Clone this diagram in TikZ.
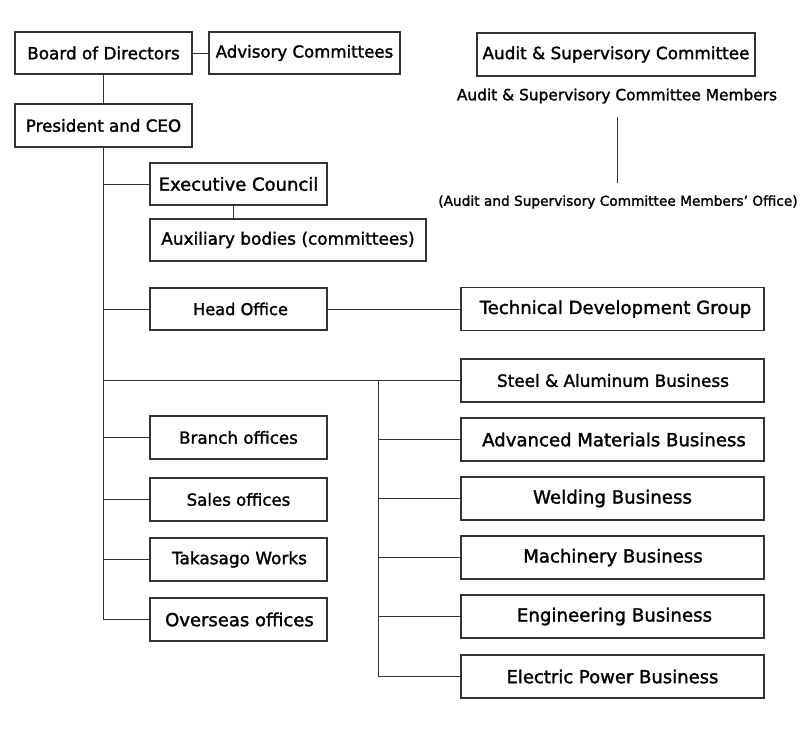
\documentclass[tikz,border=0pt]{standalone}
\usepackage{fontspec}
\setmainfont{DejaVu Sans}[FakeBold=1.6]
\usetikzlibrary{calc}
\newcommand{\fs}[1]{\fontsize{#1}{#1}\selectfont}
\begin{document}
\begin{tikzpicture}[x=1pt,y=-1pt,
  box/.style={draw=black!80,line width=1.1pt,fill=white,inner sep=0pt,
    font=\fs{16.8},text=black},
  lbox/.style={box,minimum width=177pt,minimum height=42pt},
  rbox/.style={box,minimum width=303pt,minimum height=43pt,font=\fs{18.1}},
  conn/.style={draw=black!80,line width=0.9pt},
  plain/.style={inner sep=0pt,text=black}]
\useasboundingbox (0,0) rectangle (800,731);

\node[lbox] (board) at (103.5,53) {Board of Directors};
\node[box,minimum width=191pt,minimum height=42pt,font=\fs{16.6}] (adv) at (304.5,53) {Advisory Committees};
\node[lbox,minimum height=43pt,font=\fs{16.7}] (ceo) at (103.5,125.5) {President and CEO};

\node[box,minimum width=278pt,minimum height=43pt,font=\fs{16.85}] (audit) at (616,54.5) {Audit \& Supervisory Committee};
\node[plain,font=\fs{15.4}] (members) at (617,96) {Audit \& Supervisory Committee Members};
\node[plain,font=\fs{13.7}] (office) at (618,202) {(Audit and Supervisory Committee Members’ Office)};
\coordinate (m1) at (617,117);
\coordinate (m2) at (617,183);

\node[lbox,font=\fs{18}] (exec) at (238.5,184) {Executive Council};
\node[box,minimum width=276pt,minimum height=42pt,font=\fs{16.9}] (aux) at (288,240) {Auxiliary bodies (committees)};
\node[lbox,font=\fs{16.2}] (head) at (238.5,309) {\hspace{4pt}Head Office};

\node[rbox] (tdg) at (612.5,309) {\hspace{6pt}Technical Development Group};
\node[rbox,font=\fs{16.85}] (steel) at (612.5,380.5) {\hspace{1pt}Steel \& Aluminum Business};
\node[rbox] (advm) at (612.5,439.5) {\hspace{3pt}Advanced Materials Business};
\node[rbox,font=\fs{18.2}] (weld) at (612.5,498.5) {Welding Business};
\node[rbox] (mach) at (612.5,557.5) {\hspace{1pt}Machinery Business};
\node[rbox,font=\fs{18.2}] (eng) at (612.5,616.5) {\hspace{4pt}Engineering Business};
\node[rbox,font=\fs{18}] (elec) at (612.5,676.5) {Electric Power Business};

\node[lbox,minimum height=43pt,font=\fs{16.7}] (branch) at (238.5,437.5) {Branch offices};
\node[lbox,minimum height=43pt,font=\fs{16.6}] (sales) at (238.5,499.5) {Sales offices};
\node[lbox,minimum height=43pt,font=\fs{16.9}] (taka) at (238.5,559.5) {\hspace{2pt}Takasago Works};
\node[lbox,minimum height=43pt,font=\fs{18}] (over) at (238.5,619.5) {\hspace{2pt}Overseas offices};

\coordinate (bus) at (378,380.5);

\draw[conn] (board.east) -- (adv.west);
\draw[conn] (board.south) -- (ceo.north);
\draw[conn] (ceo.south) |- (over.west);
\draw[conn] (ceo.south |- exec.west) -- (exec.west);
\draw[conn] (ceo.south |- head.west) -- (head.west);
\draw[conn] (ceo.south |- branch.west) -- (branch.west);
\draw[conn] (ceo.south |- sales.west) -- (sales.west);
\draw[conn] (ceo.south |- taka.west) -- (taka.west);
\draw[conn] ([xshift=-5pt]exec.south) -- ([xshift=-5pt]exec.south |- aux.north);
\draw[conn] (head.east) -- (tdg.west);
\draw[conn] (ceo.south |- steel.west) -- (steel.west);
\draw[conn] (bus) |- (elec.west);
\draw[conn] (bus |- advm.west) -- (advm.west);
\draw[conn] (bus |- weld.west) -- (weld.west);
\draw[conn] (bus |- mach.west) -- (mach.west);
\draw[conn] (bus |- eng.west) -- (eng.west);
\draw[conn] (m1) -- (m2);
\end{tikzpicture}
\end{document}
